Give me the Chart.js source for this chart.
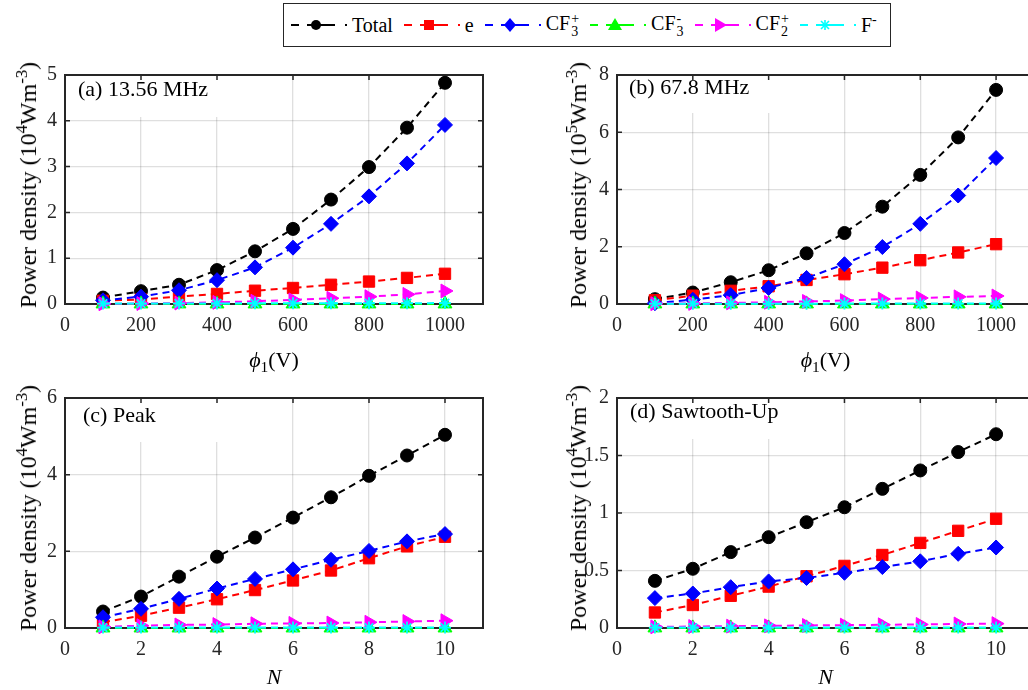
<!DOCTYPE html>
<html>
<head>
<meta charset="utf-8">
<script src="https://cdn.jsdelivr.net/npm/chart.js@4.4.0/dist/chart.umd.min.js"></script>
<style>
  html, body { margin: 0; padding: 0; background: #fff; width: 1028px; height: 690px; overflow: hidden; }
  body { position: relative; font-family: "Liberation Serif", "Times New Roman", serif; color: #000; }
  canvas { position: absolute; }
  .txt { position: absolute; white-space: nowrap; line-height: 1; font-size: 22px; }
  .ytitle { transform: translate(-50%, -50%) rotate(-90deg); font-size: 24px; }
  .xtitle { transform: translate(-50%, -50%); }
  sup { font-size: 0.7em; line-height: 0; vertical-align: 0.55em; }
  sub { font-size: 0.7em; line-height: 0; vertical-align: -0.3em; }
  #legend { position: absolute; left: 283px; top: 3px; width: 600px; height: 42px; border: 1.5px solid #262626;
            display: flex; align-items: center; gap: 10px; padding-left: 6px; box-sizing: content-box; font-size: 20px; }
  #legend .it { display: flex; align-items: center; gap: 4px; white-space: nowrap; }
  .ss { display: inline-flex; flex-direction: column; font-size: 14px; line-height: 0.95; vertical-align: 7px; margin-left: 1px; }
</style>
</head>
<body>
<div id="legend"></div>
<script>
// x values
const xVolt = [100, 200, 300, 400, 500, 600, 700, 800, 900, 1000];
const xN = [1, 2, 3, 4, 5, 6, 7, 8, 9, 10];

// tick labels
const xTicksVolt = [0, 200, 400, 600, 800, 1000];
const xTicksN = [0, 2, 4, 6, 8, 10];
const yTicksA = [0, 1, 2, 3, 4, 5];
const yTicksB = [0, 2, 4, 6, 8];
const yTicksC = [0, 2, 4, 6];
const yTicksD = [0, 0.5, 1, 1.5, 2];

// (a) 13.56 MHz, 10^4 W m^-3
const aTotal = [0.14, 0.28, 0.42, 0.74, 1.15, 1.64, 2.28, 2.99, 3.85, 4.83];
const aE     = [0.07, 0.10, 0.16, 0.22, 0.29, 0.35, 0.42, 0.49, 0.57, 0.66];
const aCF3p  = [0.08, 0.16, 0.30, 0.52, 0.80, 1.23, 1.75, 2.35, 3.07, 3.91];
const aCF3m  = [0.002, 0.002, 0.002, 0.002, 0.002, 0.002, 0.002, 0.002, 0.002, 0.002];
const aCF2p  = [0.005, 0.01, 0.02, 0.035, 0.06, 0.09, 0.125, 0.16, 0.21, 0.285];
const aFm    = [0.01, 0.01, 0.012, 0.013, 0.014, 0.015, 0.016, 0.017, 0.018, 0.02];

// (b) 67.8 MHz, 10^5 W m^-3
const bTotal = [0.17, 0.40, 0.76, 1.18, 1.77, 2.48, 3.40, 4.51, 5.82, 7.48];
const bE     = [0.13, 0.29, 0.46, 0.62, 0.84, 1.04, 1.27, 1.53, 1.80, 2.09];
const bCF3p  = [0.03, 0.15, 0.31, 0.56, 0.91, 1.39, 1.99, 2.80, 3.79, 5.10];
const bCF3m  = [0.003, 0.003, 0.003, 0.003, 0.003, 0.003, 0.003, 0.003, 0.003, 0.003];
const bCF2p  = [0.01, 0.02, 0.04, 0.06, 0.09, 0.12, 0.17, 0.21, 0.25, 0.28];
const bFm    = [0.01, 0.01, 0.01, 0.012, 0.012, 0.014, 0.014, 0.015, 0.016, 0.018];

// (c) Peak, 10^4 W m^-3
const cTotal = [0.43, 0.82, 1.34, 1.86, 2.36, 2.88, 3.41, 3.97, 4.50, 5.04];
const cE     = [0.15, 0.32, 0.53, 0.75, 0.99, 1.24, 1.50, 1.82, 2.13, 2.38];
const cCF3p  = [0.28, 0.50, 0.76, 1.03, 1.28, 1.53, 1.78, 2.01, 2.26, 2.45];
const cCF3m  = [0.002, 0.002, 0.002, 0.002, 0.002, 0.002, 0.002, 0.002, 0.002, 0.002];
const cCF2p  = [0.03, 0.06, 0.08, 0.09, 0.11, 0.12, 0.13, 0.15, 0.17, 0.19];
const cFm    = [0.01, 0.01, 0.01, 0.01, 0.01, 0.01, 0.01, 0.01, 0.01, 0.01];

// (d) Sawtooth-Up, 10^4 W m^-3
const dTotal = [0.41, 0.515, 0.66, 0.79, 0.92, 1.05, 1.21, 1.37, 1.53, 1.685];
const dE     = [0.135, 0.20, 0.28, 0.36, 0.45, 0.54, 0.635, 0.74, 0.845, 0.95];
const dCF3p  = [0.26, 0.30, 0.355, 0.405, 0.435, 0.48, 0.53, 0.58, 0.645, 0.70];
const dCF3m  = [0.001, 0.001, 0.001, 0.001, 0.001, 0.001, 0.001, 0.001, 0.001, 0.001];
const dCF2p  = [0.01, 0.013, 0.016, 0.019, 0.022, 0.025, 0.028, 0.031, 0.035, 0.038];
const dFm    = [0.004, 0.004, 0.004, 0.004, 0.004, 0.004, 0.004, 0.004, 0.004, 0.004];

const seriesNames = ['Total', 'e', 'CF3+', 'CF3-', 'CF2+', 'F-'];
const seriesHtml = ['Total', 'e', 'CF<span class="ss"><span>+</span><span>3</span></span>',
  'CF<span class="ss"><span>-</span><span>3</span></span>', 'CF<span class="ss"><span>+</span><span>2</span></span>',
  'F<sup>-</sup>'];
const seriesColors = ['#000000', '#ff0000', '#0000ff', '#00ff00', '#ff00ff', '#00ffff'];
const seriesMarkers = ['circle', 'rect', 'rectRot', 'triangle', 'triangle', 'star'];
const markerRadius = [6.5, 8, 7.5, 8, 8, 6];

const fontFamily = '"Liberation Serif", "Times New Roman", serif';
const gridColor = 'rgba(38,38,38,0.15)';

const panels = [
  { L: 65, T: 65, R: 483, B: 304, x: xVolt, xMax: 1100, xTicks: xTicksVolt, yMax: 5, yTicks: yTicksA,
    data: [aTotal, aE, aCF3p, aCF3m, aCF2p, aFm], boxW: 190, boxH: 42,
    label: '(a) 13.56 MHz', lx: 78, ly: 78, yExp: 4, xTitle: '<i>ϕ</i><sub>1</sub>(V)', yc: 28, xt: 360 },
  { L: 617, T: 65, R: 1034, B: 304, x: xVolt, xMax: 1100, xTicks: xTicksVolt, yMax: 8, yTicks: yTicksB,
    data: [bTotal, bE, bCF3p, bCF3m, bCF2p, bFm], boxW: 190, boxH: 38,
    label: '(b) 67.8 MHz', lx: 629, ly: 76, yExp: 5, xTitle: '<i>ϕ</i><sub>1</sub>(V)', yc: 578, xt: 360 },
  { L: 65, T: 388, R: 483, B: 628, x: xN, xMax: 11, xTicks: xTicksN, yMax: 6, yTicks: yTicksC,
    data: [cTotal, cE, cCF3p, cCF3m, cCF2p, cFm], boxW: 190, boxH: 44,
    label: '(c) Peak', lx: 83, ly: 404, yExp: 4, xTitle: '<i>N</i>', yc: 28, xt: 677 },
  { L: 617, T: 388, R: 1034, B: 628, x: xN, xMax: 11, xTicks: xTicksN, yMax: 2, yTicks: yTicksD,
    data: [dTotal, dE, dCF3p, dCF3m, dCF2p, dFm], boxW: 190, boxH: 41,
    label: '(d) Sawtooth-Up', lx: 630, ly: 400, yExp: 4, xTitle: '<i>N</i>', yc: 578, xt: 677 }
];

// white label box, axes box and inward ticks (MATLAB look)
const frame = {
  id: 'frame',
  beforeDatasetsDraw(chart, args, opts) {
    const { ctx, chartArea: a, scales } = chart;
    ctx.save();
    ctx.fillStyle = '#fff';
    ctx.fillRect(a.left, a.top, opts.boxW, opts.boxH);
    ctx.strokeStyle = '#262626';
    ctx.lineWidth = 1.5;
    ctx.beginPath();
    scales.x.ticks.forEach(t => {
      const px = scales.x.getPixelForValue(t.value);
      ctx.moveTo(px, a.bottom); ctx.lineTo(px, a.bottom - 5);
      ctx.moveTo(px, a.top); ctx.lineTo(px, a.top + 5);
    });
    scales.y.ticks.forEach(t => {
      const py = scales.y.getPixelForValue(t.value);
      ctx.moveTo(a.left, py); ctx.lineTo(a.left + 5, py);
      ctx.moveTo(a.right, py); ctx.lineTo(a.right - 5, py);
    });
    ctx.stroke();
    ctx.lineWidth = 2;
    ctx.strokeRect(a.left, a.top, a.right - a.left, a.bottom - a.top);
    ctx.restore();
  }
};

function addText(html, left, top, cls) {
  const d = document.createElement('div');
  d.className = 'txt ' + (cls || '');
  d.innerHTML = html;
  d.style.left = left + 'px';
  d.style.top = top + 'px';
  document.body.appendChild(d);
  return d;
}

function makeChart(p) {
  const cv = document.createElement('canvas');
  cv.width = p.R - p.L + 85;
  cv.height = p.B - p.T + 55;
  cv.style.left = (p.L - 65) + 'px';
  cv.style.top = (p.T - 10) + 'px';
  document.body.appendChild(cv);

  const datasets = p.data.map((vals, i) => ({
    label: seriesNames[i],
    data: p.x.map((x, j) => ({ x: x, y: vals[j] })),
    borderColor: seriesColors[i],
    backgroundColor: seriesColors[i],
    borderWidth: 2,
    borderDash: [7, 5],
    tension: 0,
    pointStyle: seriesMarkers[i],
    pointRadius: markerRadius[i],
    pointRotation: i === 4 ? 90 : 0,
    pointBackgroundColor: seriesColors[i],
    pointBorderColor: seriesColors[i],
    pointBorderWidth: i === 5 ? 1.8 : 1,
    order: 5 - i,
    clip: false
  }));

  new Chart(cv, {
    type: 'line',
    data: { datasets },
    options: {
      responsive: false,
      animation: false,
      events: [],
      layout: { padding: { top: 10, right: 20, left: 0, bottom: 0 } },
      plugins: {
        legend: { display: false },
        tooltip: { enabled: false },
        frame: { boxW: p.boxW, boxH: p.boxH }
      },
      scales: {
        x: {
          type: 'linear', min: 0, max: p.xMax,
          afterBuildTicks: s => { s.ticks = p.xTicks.map(v => ({ value: v })); },
          afterFit: s => { s.height = 45; },
          grid: { color: gridColor, lineWidth: 1.3, drawTicks: false },
          border: { display: false },
          ticks: { padding: 10, color: '#262626', font: { family: fontFamily, size: 20 },
                   maxRotation: 0, autoSkip: false, callback: v => String(v) }
        },
        y: {
          type: 'linear', min: 0, max: p.yMax,
          afterBuildTicks: s => { s.ticks = p.yTicks.map(v => ({ value: v })); },
          afterFit: s => { s.width = 65; },
          grid: { color: gridColor, lineWidth: 1.3, drawTicks: false },
          border: { display: false },
          ticks: { padding: 8, color: '#262626', font: { family: fontFamily, size: 20 },
                   autoSkip: false, callback: v => String(v) }
        }
      }
    },
    plugins: [frame]
  });

  addText(p.label, p.lx, p.ly);
  addText('Power density (10<sup>' + p.yExp + '</sup>Wm<sup>-3</sup>)', p.yc, (p.T + p.B) / 2, 'ytitle');
  addText(p.xTitle, (p.L + p.R) / 2, p.xt, 'xtitle');
}

panels.forEach(makeChart);

// legend
function markerSvg(i) {
  const c = seriesColors[i];
  const cx = 26, cy = 10;
  let m = '';
  if (i === 0) m = `<circle cx="${cx}" cy="${cy}" r="5" fill="${c}"/>`;
  if (i === 1) m = `<rect x="${cx - 5}" y="${cy - 5}" width="10" height="10" fill="${c}"/>`;
  if (i === 2) m = `<polygon points="${cx},${cy - 7} ${cx + 6},${cy} ${cx},${cy + 7} ${cx - 6},${cy}" fill="${c}"/>`;
  if (i === 3) m = `<polygon points="${cx},${cy - 7} ${cx + 7},${cy + 5} ${cx - 7},${cy + 5}" fill="${c}"/>`;
  if (i === 4) m = `<polygon points="${cx + 7},${cy} ${cx - 5},${cy - 7} ${cx - 5},${cy + 7}" fill="${c}"/>`;
  if (i === 5) m = `<g stroke="${c}" stroke-width="1.6"><line x1="${cx - 5}" y1="${cy}" x2="${cx + 5}" y2="${cy}"/>` +
    `<line x1="${cx}" y1="${cy - 5}" x2="${cx}" y2="${cy + 5}"/><line x1="${cx - 4}" y1="${cy - 4}" x2="${cx + 4}" y2="${cy + 4}"/>` +
    `<line x1="${cx - 4}" y1="${cy + 4}" x2="${cx + 4}" y2="${cy - 4}"/></g>`;
  const line = `<g stroke="${c}" stroke-width="2"><line x1="1" y1="${cy}" x2="9" y2="${cy}"/>` +
    `<line x1="17" y1="${cy}" x2="45" y2="${cy}"/><line x1="55" y1="${cy}" x2="57" y2="${cy}"/></g>`;
  return `<svg width="58" height="20" viewBox="0 0 58 20">${line}${m}</svg>`;
}
const legend = document.getElementById('legend');
seriesNames.forEach((n, i) => {
  const it = document.createElement('span');
  it.className = 'it';
  it.innerHTML = markerSvg(i) + '<span>' + seriesHtml[i] + '</span>';
  legend.appendChild(it);
});
</script>
</body>
</html>
